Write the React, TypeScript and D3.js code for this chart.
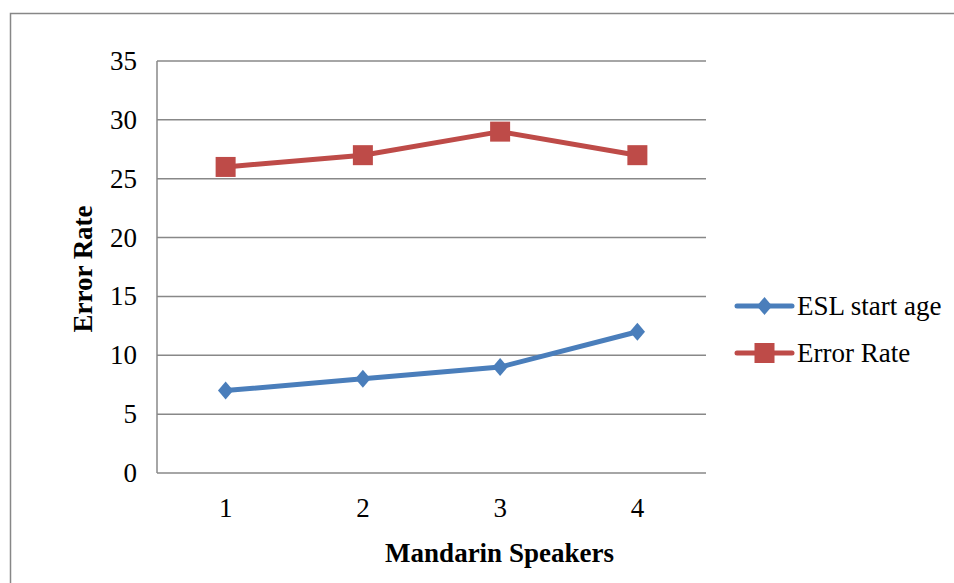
import React from "react";
import * as d3 from "d3";

const categories = ["1", "2", "3", "4"];
const eslStartAge = [7, 8, 9, 12];
const errorRate = [26, 27, 29, 27];
const yTicks = [0, 5, 10, 15, 20, 25, 30, 35];
const seriesNames = ["ESL start age", "Error Rate"];

const W = 954;
const H = 583;
const plot = { left: 157, right: 706, top: 61, bottom: 473 };
const BLUE = "#4A7EBB";
const RED = "#BE4B48";
const GRID = "#888888";
const FONT = "'Liberation Serif', 'DejaVu Serif', serif";

export default function App() {
  const x = d3.scaleBand<string>().domain(categories).range([plot.left, plot.right]);
  const y = d3.scaleLinear().domain([0, 35]).range([plot.bottom, plot.top]);
  const cx = (c: string) => (x(c) ?? 0) + x.bandwidth() / 2;
  const line = d3
    .line<number>()
    .x((_, i) => cx(categories[i]))
    .y((d) => y(d));

  const diamond = (px: number, py: number, r = 9) =>
    `M${px},${py - r}L${px + r * 0.85},${py}L${px},${py + r}L${px - r * 0.85},${py}Z`;

  const legendX1 = 737;
  const legendX2 = 792;
  const legendYs = [306, 353];

  return (
    <svg
      width={W}
      height={H}
      style={{ position: "absolute", left: 0, top: 0, background: "#fff" }}
    >
      <rect x={10.5} y={13.5} width={W} height={H} fill="#fff" stroke="#878787" strokeWidth={1.5} />
      {yTicks.map((t) => (
        <g key={t}>
          <line x1={plot.left} x2={plot.right} y1={y(t)} y2={y(t)} stroke={GRID} strokeWidth={1.5} />
          <text
            x={137}
            y={y(t)}
            textAnchor="end"
            dominantBaseline="central"
            fontFamily={FONT}
            fontSize={27}
            fill="#000"
          >
            {t}
          </text>
        </g>
      ))}
      <line x1={plot.left} x2={plot.left} y1={plot.top} y2={plot.bottom} stroke={GRID} strokeWidth={1.5} />
      {categories.map((c) => (
        <text
          key={c}
          x={cx(c)}
          y={508}
          textAnchor="middle"
          dominantBaseline="central"
          fontFamily={FONT}
          fontSize={27}
          fill="#000"
        >
          {c}
        </text>
      ))}
      <text
        x={(plot.left + plot.right) / 2 + 68}
        y={553}
        textAnchor="middle"
        dominantBaseline="central"
        fontFamily={FONT}
        fontSize={27}
        fontWeight="bold"
        fill="#000"
      >
        Mandarin Speakers
      </text>
      <text
        transform={`translate(83,${(plot.top + plot.bottom) / 2 + 2}) rotate(-90)`}
        textAnchor="middle"
        dominantBaseline="central"
        fontFamily={FONT}
        fontSize={27}
        fontWeight="bold"
        fill="#000"
      >
        Error Rate
      </text>

      <path d={line(eslStartAge) ?? ""} fill="none" stroke={BLUE} strokeWidth={5} strokeLinejoin="round" />
      {eslStartAge.map((v, i) => (
        <path key={i} d={diamond(cx(categories[i]), y(v))} fill={BLUE} />
      ))}
      <path d={line(errorRate) ?? ""} fill="none" stroke={RED} strokeWidth={5} strokeLinejoin="round" />
      {errorRate.map((v, i) => (
        <rect key={i} x={cx(categories[i]) - 10} y={y(v) - 10} width={20} height={20} fill={RED} />
      ))}

      {seriesNames.map((name, i) => {
        const ly = legendYs[i];
        const col = i === 0 ? BLUE : RED;
        const mx = (legendX1 + legendX2) / 2;
        return (
          <g key={name}>
            <line x1={legendX1} x2={legendX2} y1={ly} y2={ly} stroke={col} strokeWidth={5} strokeLinecap="round" />
            {i === 0 ? (
              <path d={diamond(mx, ly)} fill={col} />
            ) : (
              <rect x={mx - 10} y={ly - 10} width={20} height={20} fill={col} />
            )}
            <text
              x={797}
              y={ly}
              dominantBaseline="central"
              fontFamily={FONT}
              fontSize={27}
              fill="#000"
            >
              {name}
            </text>
          </g>
        );
      })}
    </svg>
  );
}
